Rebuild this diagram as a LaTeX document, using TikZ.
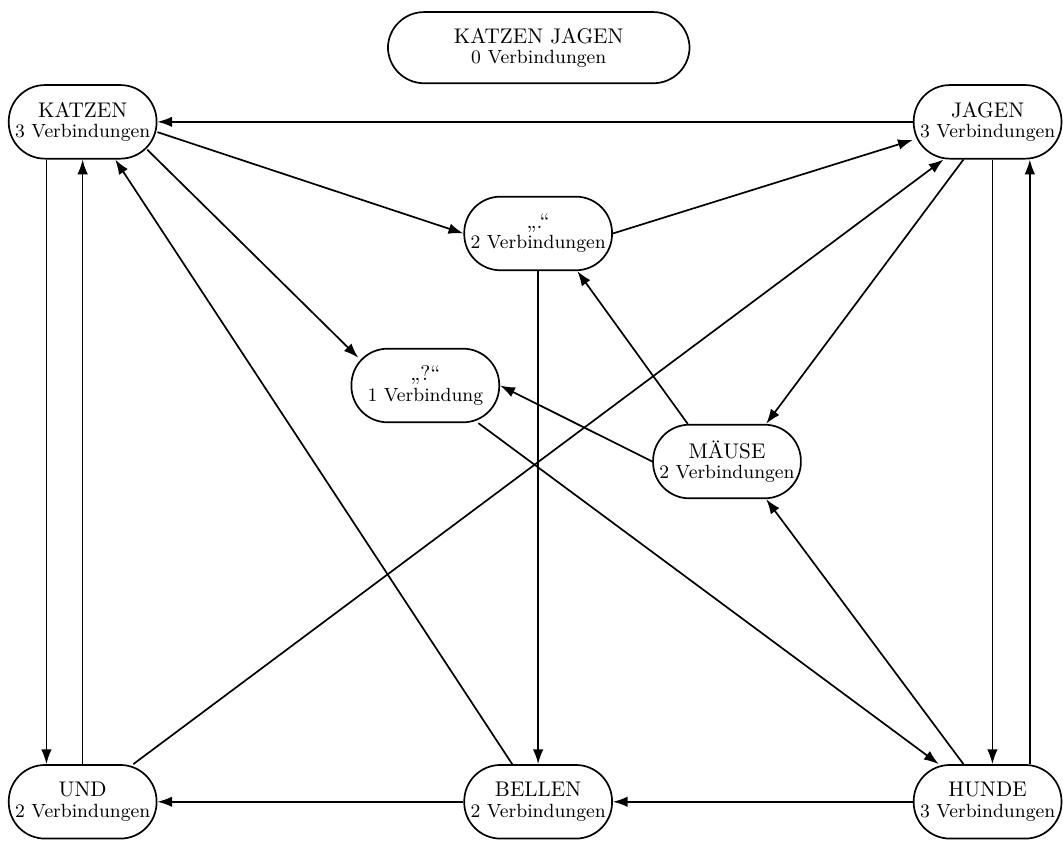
\documentclass[tikz,border=0pt]{standalone}
\usepackage{tikz}
\usetikzlibrary{arrows.meta}

\begin{document}
\begin{tikzpicture}[>={Latex[length=7pt,width=5pt]}, thick, wort/.style={draw, rounded corners=0.6cm, minimum width=2.45cm, minimum height=1.22cm, align=center, inner sep=2pt}]
		\useasboundingbox (-1.37,-0.65) rectangle (16.25,13.29);
		\node[wort, minimum width=5cm, minimum height=1.18cm] (kj) at (7.56,12.5) {KATZEN JAGEN\\[-2.5pt]{\small 0 Verbindungen}};
		\node[wort] (katzen) at (0,11.27) {KATZEN\\[-2.5pt]{\small 3 Verbindungen}};
		\node[wort] (jagen) at (15,11.27) {JAGEN\\[-2.5pt]{\small 3 Verbindungen}};
		\node[wort] (punkt) at (7.55,9.42) {„.“\\[-2.5pt]{\small 2 Verbindungen}};
		\node[wort] (frage) at (5.68,6.9) {„?“\\[-2.5pt]{\small 1 Verbindung}};
		\node[wort] (maeuse) at (10.68,5.64) {MÄUSE\\[-2.5pt]{\small 2 Verbindungen}};
		\node[wort] (und) at (0,0) {UND\\[-2.5pt]{\small 2 Verbindungen}};
		\node[wort] (bellen) at (7.55,0) {BELLEN\\[-2.5pt]{\small 2 Verbindungen}};
		\node[wort] (hunde) at (15,0) {HUNDE\\[-2.5pt]{\small 3 Verbindungen}};
		\draw[->] (jagen.west) -- (katzen.east);
		\draw[->] ([yshift=-0.17cm]katzen.east) -- (punkt.west);
		\draw[->] (punkt.east) -- ([yshift=-0.3cm]jagen.west);
		\draw[->] ([shift={(1.07,-0.46)}]katzen.center) -- ([shift={(-1.11,0.46)}]frage.center);
		\draw[->] ([xshift=-0.6cm]katzen.south) -- ([xshift=-0.6cm]und.north);
		\draw[->] (und.north) -- (katzen.south);
		\draw[->] ([xshift=-0.43cm]bellen.north) -- ([xshift=0.54cm]katzen.south);
		\draw[->] ([xshift=0.84cm]und.north) -- ([xshift=-0.73cm]jagen.south);
		\draw[->] ([xshift=-0.4cm]jagen.south) -- ([xshift=0.65cm]maeuse.north);
		\draw[->] ([xshift=0.08cm]jagen.south) -- ([xshift=0.08cm]hunde.north);
		\draw[->] ([xshift=0.7cm]hunde.north) -- ([xshift=0.7cm]jagen.south);
		\draw[->] (punkt.south) -- (bellen.north);
		\draw[->] ([xshift=-0.65cm]maeuse.north) -- ([xshift=0.65cm]punkt.south);
		\draw[->] (maeuse.west) -- (frage.east);
		\draw[->] ([xshift=0.88cm]frage.south) -- ([xshift=-0.81cm]hunde.north);
		\draw[->] ([xshift=-0.4cm]hunde.north) -- ([xshift=0.65cm]maeuse.south);
		\draw[->] (hunde.west) -- (bellen.east);
		\draw[->] (bellen.west) -- (und.east);
	\end{tikzpicture}
\end{document}
